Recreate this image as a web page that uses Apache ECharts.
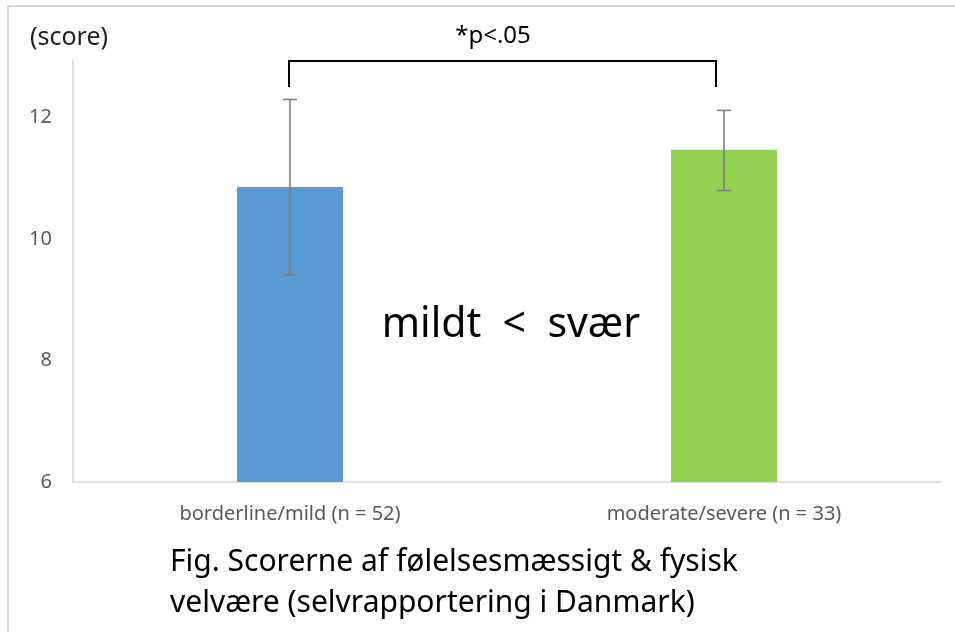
<!DOCTYPE html>
<html>
<head>
<meta charset="utf-8">
<script src="https://cdn.jsdelivr.net/npm/echarts@6/dist/echarts.min.js"></script>
<style>
  html, body { margin: 0; padding: 0; background: #fff; }
  #chart { width: 955px; height: 632px; }
</style>
</head>
<body>
<div id="chart"></div>
<script>
// data
const categories = ['borderline/mild (n = 52)', 'moderate/severe (n = 33)']
const means = [10.86, 11.47]
const errLow = [9.41, 10.80]
const errHigh = [12.30, 12.12]
const barColors = ['#5b9bd5', '#92d050']
const yTicks = [6, 8, 10, 12]

const font = '"Noto Sans", "Open Sans", sans-serif'
const chart = echarts.init(document.getElementById('chart'))

const errData = categories.map((c, i) => [i, errLow[i], errHigh[i]])

chart.setOption({
  animation: false,
  grid: { left: 73, right: 14, top: 60, bottom: 150 },
  xAxis: {
    type: 'category',
    data: categories,
    axisLine: { lineStyle: { color: '#d9d9d9', width: 1.5 } },
    axisTick: { show: false },
    axisLabel: { color: '#595959', fontSize: 20, fontFamily: font, margin: 22 }
  },
  yAxis: {
    type: 'value',
    min: 6,
    max: 12.95,
    interval: 2,
    axisLine: { show: true, lineStyle: { color: '#d9d9d9', width: 1.5 } },
    axisTick: { show: false },
    splitLine: { show: false },
    axisLabel: {
      color: '#595959', fontSize: 20, fontFamily: font, margin: 21,
      formatter: v => yTicks.includes(v) ? String(v) : ''
    }
  },
  series: [
    {
      type: 'bar',
      barWidth: 106,
      data: means.map((v, i) => ({ value: v, itemStyle: { color: barColors[i] } }))
    },
    {
      type: 'custom',
      data: errData,
      z: 5,
      renderItem: (params, api) => {
        const x = api.coord([api.value(0), api.value(1)])[0]
        const lo = api.coord([api.value(0), api.value(1)])[1]
        const hi = api.coord([api.value(0), api.value(2)])[1]
        const style = { stroke: '#7f7f7f', lineWidth: 1.6 }
        return {
          type: 'group',
          children: [
            { type: 'line', shape: { x1: x, y1: hi, x2: x, y2: lo }, style },
            { type: 'line', shape: { x1: x - 7, y1: hi, x2: x + 7, y2: hi }, style },
            { type: 'line', shape: { x1: x - 7, y1: lo, x2: x + 7, y2: lo }, style }
          ]
        }
      }
    }
  ],
  graphic: [
    // slide frame
    { type: 'line', shape: { x1: 8, y1: 6, x2: 955, y2: 6 }, style: { stroke: '#d6d6d6', lineWidth: 2 } },
    { type: 'line', shape: { x1: 8, y1: 6, x2: 8, y2: 632 }, style: { stroke: '#d6d6d6', lineWidth: 2 } },
    // significance bracket
    {
      type: 'polyline',
      shape: { points: [[289, 87], [289, 61], [716, 61], [716, 87]] },
      style: { stroke: '#000', lineWidth: 2, fill: null }
    },
    {
      type: 'text',
      style: { x: 493, y: 36, text: '*p<.05', fontSize: 24, fontFamily: font, fill: '#000', textAlign: 'center', textVerticalAlign: 'middle' }
    },
    {
      type: 'text',
      style: { x: 30, y: 38, text: '(score)', fontSize: 25, fontFamily: font, fill: '#222', textVerticalAlign: 'middle' }
    },
    {
      type: 'text',
      style: { x: 511, y: 325, text: 'mildt  <  svær', fontSize: 41, fontFamily: font, fill: '#000', textAlign: 'center', textVerticalAlign: 'middle' }
    },
    {
      type: 'text', left: 170, top: 542,
      style: {
        text: 'Fig. Scorerne af følelsesmæssigt & fysisk\nvelvære (selvrapportering i Danmark)',
        fontSize: 30, lineHeight: 41, fontFamily: font, fill: '#000'
      }
    }
  ]
})
</script>
</body>
</html>
